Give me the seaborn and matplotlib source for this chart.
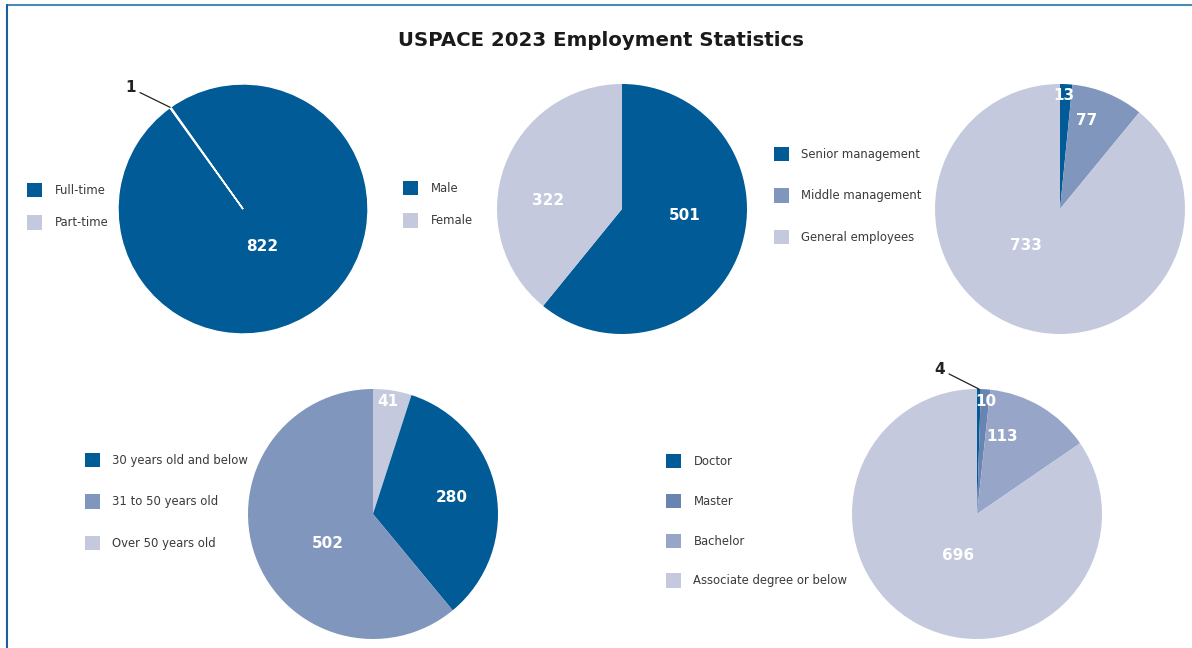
import matplotlib
matplotlib.use("Agg")
import matplotlib.pyplot as plt
import seaborn as sns
import numpy as np
from matplotlib.patches import Patch
from matplotlib.lines import Line2D

# ---------------- data ----------------
title = "USPACE 2023 Employment Statistics"

emp_labels = ["Full-time", "Part-time"]
emp_values = [822, 1]

gender_labels = ["Male", "Female"]
gender_values = [501, 322]

level_labels = ["Senior management", "Middle management", "General employees"]
level_values = [13, 77, 733]

age_labels = ["30 years old and below", "31 to 50 years old", "Over 50 years old"]
age_values = [280, 502, 41]

edu_labels = ["Doctor", "Master", "Bachelor", "Associate degree or below"]
edu_values = [4, 10, 113, 696]

# ---------------- style ----------------
sns.set_theme(style="white")
plt.rcParams["font.family"] = ["DejaVu Sans"]

DARK = "#005B96"
LIGHT = "#C4C9DE"
MED = "#8096BD"
MASTER = "#6A84B2"
BACH = "#97A6C8"
TXT = "#3A3A3A"
NUM_FS = 11

W, H = 1192, 648
fig = plt.figure(figsize=(W / 100, H / 100), dpi=100)
fig.patch.set_facecolor("white")

R = 125  # pie radius in px


def pie_axes(cx, cy):
    return fig.add_axes([(cx - R) / W, (H - cy - R) / H, 2 * R / W, 2 * R / H])


def draw_pie(cx, cy, values, colors, label_pos, start=90, edge=None):
    ax = pie_axes(cx, cy)
    wp = dict(linewidth=1.0, edgecolor="white") if edge else dict(linewidth=0)
    wedges, _ = ax.pie(values, colors=colors, startangle=start, counterclock=False,
                       radius=1, wedgeprops=wp)
    ax.set_xlim(-1, 1)
    ax.set_ylim(-1, 1)
    ax.set_aspect("equal")
    ax.axis("off")
    for v, pos in zip(values, label_pos):
        if pos is None:
            continue
        ax.text(pos[0], pos[1], f"{v}", color="white", fontsize=NUM_FS, fontweight="bold",
                ha="center", va="center")
    return ax, wedges


def legend(x, y, labels, colors, spacing):
    handles = [Patch(facecolor=c, edgecolor="none") for c in colors]
    fig.legend(handles, labels, loc="upper left", bbox_to_anchor=(x / W, 1 - y / H),
               frameon=False, fontsize=8.4, handlelength=1.3, handleheight=1.5,
               handletextpad=1.05, labelspacing=spacing, borderpad=0, borderaxespad=0,
               labelcolor=TXT)


def callout(ax, wedge, value, text_xy):
    ang = np.deg2rad((wedge.theta1 + wedge.theta2) / 2)
    tip = (np.cos(ang), np.sin(ang))
    ax.annotate(f"{value}", xy=tip, xytext=text_xy, fontsize=NUM_FS, fontweight="bold",
                color="#222222", ha="right", va="center", annotation_clip=False,
                arrowprops=dict(arrowstyle="-", color="#222222", lw=0.9,
                                shrinkA=1, shrinkB=0))


# Pie 1: employment type
ax1, w1 = draw_pie(243, 209, emp_values, [DARK, LIGHT], [(0.15, -0.30), None],
                   start=125.4, edge=True)
callout(ax1, w1[1], emp_values[1], (-0.86, 0.97))
legend(27, 183, emp_labels, [DARK, LIGHT], 1.55)

# Pie 2: gender
ax2, w2 = draw_pie(622, 209, gender_values, [DARK, LIGHT], [(0.50, -0.05), (-0.59, 0.07)])
legend(403, 181, gender_labels, [DARK, LIGHT], 1.55)

# Pie 3: level
ax3, w3 = draw_pie(1060, 209, level_values, [DARK, MED, LIGHT],
                   [(0.03, 0.91), (0.21, 0.71), (-0.27, -0.29)])
legend(774, 147, level_labels, [DARK, MED, LIGHT], 2.32)

# Pie 4: age (drawn clockwise starting with "Over 50")
age_order = [2, 0, 1]
age_colors = [DARK, MED, LIGHT]
age_pos = {2: (0.12, 0.90), 0: (0.63, 0.13), 1: (-0.36, -0.24)}
ax4 = pie_axes(373, 514)
ax4.pie([age_values[i] for i in age_order], colors=[age_colors[i] for i in age_order],
        startangle=90, counterclock=False, wedgeprops=dict(linewidth=0))
ax4.set_xlim(-1, 1); ax4.set_ylim(-1, 1); ax4.set_aspect("equal"); ax4.axis("off")
for i in age_order:
    p = age_pos[i]
    ax4.text(p[0], p[1], f"{age_values[i]}", color="white", fontsize=NUM_FS,
             fontweight="bold", ha="center", va="center")
legend(85, 453, age_labels, age_colors, 2.32)

# Pie 5: education
ax5, w5 = draw_pie(977, 514, edu_values, [DARK, MASTER, BACH, LIGHT],
                   [None, (0.07, 0.90), (0.20, 0.62), (-0.15, -0.33)])
callout(ax5, w5[0], edu_values[0], (-0.26, 1.16))
legend(666, 454, edu_labels, [DARK, MASTER, BACH, LIGHT], 2.19)

# title
fig.text(601 / W, 1 - 40 / H, title, ha="center", va="center", fontsize=14.2,
         fontweight="bold", color="#1A1A1A")

# frame lines
fig.add_artist(Line2D([7 / W, 1], [1 - 5 / H, 1 - 5 / H], transform=fig.transFigure,
                      color="#4A8CB8", lw=1.5))
fig.add_artist(Line2D([7 / W, 7 / W], [1 - 5 / H, 0], transform=fig.transFigure,
                      color="#1A5E9E", lw=1.5))

fig.savefig("out.png", dpi=100, facecolor="white")
